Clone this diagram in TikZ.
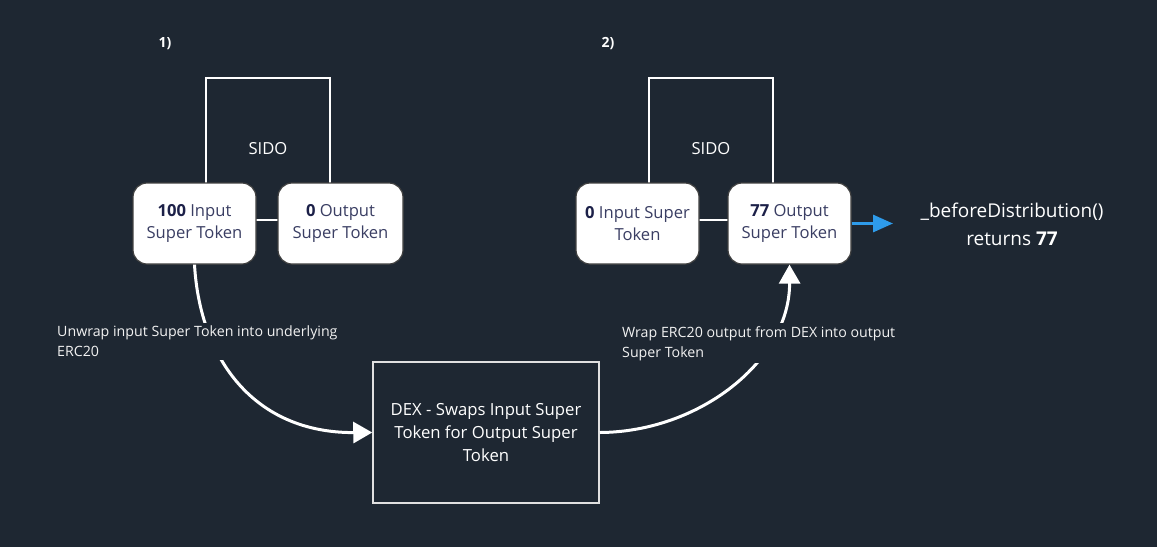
\documentclass[tikz,border=0pt]{standalone}
\usepackage{fontspec}
\setmainfont{Open Sans}
\usetikzlibrary{arrows.meta}
\definecolor{bg}{HTML}{1E2732}
\definecolor{tokc}{HTML}{3A3E63}
\definecolor{tokb}{HTML}{1C2048}
\definecolor{blueA}{HTML}{2E9BEA}
\definecolor{lite}{HTML}{F2F2F2}
\tikzset{
  tok/.style={rectangle, rounded corners=14pt, fill=white, draw=black!75, line width=1.2pt,
    minimum height=81pt, align=center, text=tokc, inner sep=0pt,
    font=\fontsize{16.6}{22.5}\selectfont},
  sidobox/.style={rectangle, draw=white, line width=1.5pt, minimum width=124pt,
    minimum height=142pt, text=white, font=\fontsize{16.6}{20}\selectfont, inner sep=0pt},
  dexbox/.style={rectangle, draw=white!88!black, line width=1.5pt, minimum width=226pt,
    minimum height=141pt, text=white, align=center, inner sep=0pt,
    font=\fontsize{16.7}{23}\selectfont},
  flow/.style={draw=white, line width=3pt, -{Triangle[length=19pt,width=21pt]}},
  lab/.style={fill=bg, text=lite, align=left, inner xsep=4pt, inner ysep=3pt,
    font=\fontsize{14.2}{20}\selectfont},
  num/.style={text=white, font=\bfseries\fontsize{14}{16}\selectfont},
}
\begin{document}
\begin{tikzpicture}[x=1pt,y=-1pt]
\fill[bg] (0,0) rectangle (1157,547);
\useasboundingbox (0,0) rectangle (1157,547);

\node[num] (n1) at (165,44) {1)};
\node[num] (n2) at (608,44) {2)};

\node[sidobox] (sido1) at (268,149) {SIDO};
\node[sidobox] (sido2) at (711,149) {SIDO};

\node[tok, minimum width=123pt] (in1) at (194.5,223.5) {\textcolor{tokb}{\textbf{100}} Input\\Super Token};
\node[tok, minimum width=125pt] (out1) at (340.5,223.5) {\textcolor{tokb}{\textbf{0}} Output\\Super Token};
\node[tok, minimum width=123pt] (in2) at (637.5,223.5) {\textcolor{tokb}{\textbf{0}} Input Super\\Token};
\node[tok, minimum width=123pt] (out2) at (789.5,223.5) {\textcolor{tokb}{\textbf{77}} Output\\Super Token};

\node[dexbox] (dex) at (486,432.5) {DEX - Swaps Input Super\\Token for Output Super\\Token};

\node[text=white, align=center, font=\fontsize{19}{27.5}\selectfont] (res) at (1012,224.5)
  {\_beforeDistribution()\\returns \textbf{77}};

\coordinate (bt) at (893,223.5);
\draw[draw=blueA, line width=3pt, -{Triangle[length=20pt,width=17pt]}] (out2.east) -- (bt);

\draw[flow] (in1.south) .. controls (200,360) and (255,433) .. (dex.west);
\draw[flow] (dex.east) .. controls (700,432) and (790,360) .. (out2.south);

\node[lab, anchor=north west] (lab1) at (53,323) {Unwrap input Super Token into underlying\\ERC20};
\node[lab, anchor=north west] (lab2) at (618,323) {Wrap ERC20 output from DEX into output\\Super Token};
\end{tikzpicture}
\end{document}
